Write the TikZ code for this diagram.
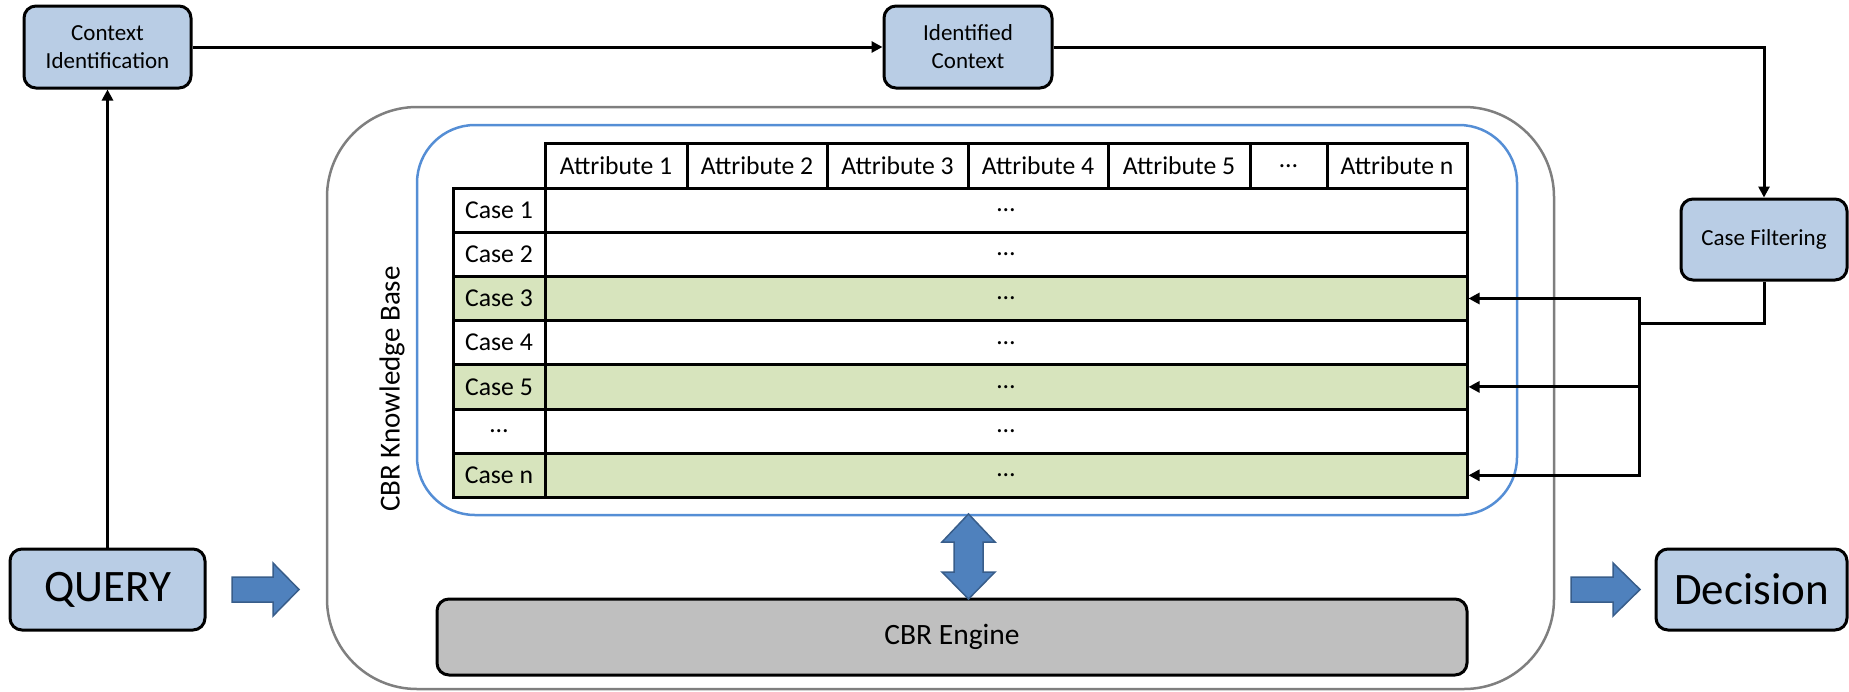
\documentclass[tikz,border=0pt]{standalone}
\usepackage{fontspec}
\setmainfont{Carlito}
\usetikzlibrary{arrows.meta,calc}
\definecolor{boxblue}{HTML}{B9CDE5}
\definecolor{rowgreen}{HTML}{D7E4BD}
\definecolor{kbblue}{HTML}{558ED5}
\definecolor{framegray}{HTML}{7F7F7F}
\definecolor{enginegray}{HTML}{BFBFBF}
\definecolor{arrowfill}{HTML}{4F81BD}
\definecolor{arrowedge}{HTML}{385D8A}

\tikzset{
  stagebox/.style={draw=black, line width=3pt, fill=boxblue, rounded corners=12pt,
    inner sep=0pt, align=center},
  smalltext/.style={font=\fontsize{23}{28}\selectfont},
  bigtext/.style={font=\fontsize{45}{50}\selectfont},
  cell/.style={draw=black, line width=3pt, inner sep=0pt, minimum height=44.2pt,
    font=\fontsize{25.7}{30}\selectfont},
  conn/.style={draw=black, line width=3pt, -{Triangle[length=11pt,width=11pt]}},
  wire/.style={draw=black, line width=3pt},
  blockarrow/.style={fill=arrowfill, draw=arrowedge, line width=1.5pt, line join=miter},
}

\begin{document}
\begin{tikzpicture}[x=1pt,y=-1pt]
\useasboundingbox (0,0) rectangle (1849,691);

% system frame and knowledge base container
\node[draw=framegray, line width=2.5pt, rounded corners=90pt, minimum width=1227pt,
  minimum height=582pt, inner sep=0pt] (sys) at (940.5,398) {};
\node[draw=kbblue, line width=2.5pt, rounded corners=58pt, minimum width=1100pt,
  minimum height=390pt, inner sep=0pt] (kb) at (967,320) {};
\node[rotate=90, font=\fontsize{29}{34}\selectfont] (kblabel) at (392,389) {CBR Knowledge Base};

% attribute header
\node[cell, minimum width=142pt] (h1) at (616,166) {Attribute 1};
\node[cell, minimum width=140pt] (h2) at (757,166) {Attribute 2};
\node[cell, minimum width=141pt] (h3) at (897.5,166) {Attribute 3};
\node[cell, minimum width=140pt] (h4) at (1038,166) {Attribute 4};
\node[cell, minimum width=142pt] (h5) at (1179,166) {Attribute 5};
\node[cell, minimum width=77pt] (h6) at (1288.5,166) {…};
\node[cell, minimum width=140pt] (h7) at (1397,166) {Attribute n};

% case rows
\foreach \lab/\col [count=\i] in {Case 1/white,Case 2/white,Case 3/rowgreen,Case 4/white,Case 5/rowgreen,…/white,Case n/rowgreen}{
  \node[cell, fill=\col, minimum width=92pt] (k\i) at (499,{188+44.2*(\i-0.5)}) {\lab};
  \node[cell, fill=\col, minimum width=922pt] (d\i) at (1006,{188+44.2*(\i-0.5)}) {…};
}

% engine
\node[draw=black, line width=3pt, fill=enginegray, rounded corners=12pt, minimum width=1030pt,
  minimum height=76pt, inner sep=0pt, font=\fontsize{29.5}{34}\selectfont] (engine) at (952,637) {CBR Engine};

% two-way exchange between knowledge base and engine
\fill[blockarrow] (968.5,514) -- (995,542) -- (983,542) -- (983,572) -- (995,572)
  -- (968.5,599) -- (942,572) -- (954,572) -- (954,542) -- (942,542) -- cycle;

% outer boxes
\node[stagebox, smalltext, minimum width=167pt, minimum height=82pt] (ctx) at (107.5,47) {Context\\Identification};
\node[stagebox, smalltext, minimum width=168pt, minimum height=82pt] (idc) at (968,47) {Identified\\Context};
\node[stagebox, smalltext, minimum width=166pt, minimum height=81pt] (cf) at (1764,239.5) {Case Filtering};
\node[stagebox, bigtext, minimum width=195pt, minimum height=81pt] (query) at (107.5,589.5) {QUERY};
\node[stagebox, bigtext, minimum width=191pt, minimum height=81pt] (dec) at (1751.5,589.5) {Decision};

% input and output block arrows
\fill[blockarrow] (232,577) -- (273,577) -- (273,563) -- (299,589.5) -- (273,616) -- (273,602) -- (232,602) -- cycle;
\fill[blockarrow] (1571,577) -- (1613,577) -- (1613,563) -- (1640,589.5) -- (1613,616) -- (1613,602) -- (1571,602) -- cycle;

% control flow
\draw[conn] (query.north) -- (ctx.south);
\draw[conn] (ctx.east) -- (idc.west);
\draw[conn] (idc.east) -| (cf.north);
\coordinate (split) at (1639,323);
\draw[wire] (cf.south) |- (split);
\draw[conn] (split) |- (d3.east);
\draw[conn] (split) |- (d5.east);
\draw[conn] (split) |- (d7.east);
\end{tikzpicture}
\end{document}
